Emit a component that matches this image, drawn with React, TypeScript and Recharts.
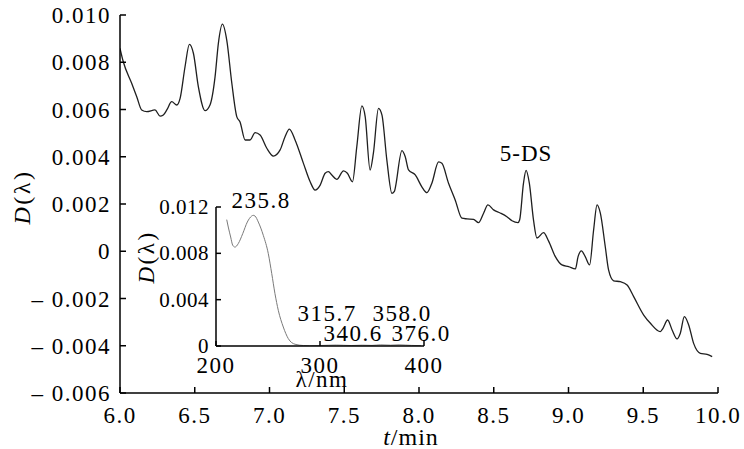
import React from 'react';
import { LineChart, Line, XAxis, YAxis, ReferenceDot } from 'recharts';

const FONT = "'Liberation Serif', 'Times New Roman', serif";

// Main chromatogram: retention time (min) and D(λ)
const timeMin = [
  6.000, 6.022, 6.078, 6.112, 6.145, 6.179, 6.234, 6.268, 6.290, 6.313,
  6.346, 6.380, 6.402, 6.435, 6.464, 6.491, 6.524, 6.569, 6.602, 6.636,
  6.658, 6.685, 6.714, 6.748, 6.781, 6.803, 6.837, 6.870, 6.904, 6.937,
  6.982, 7.026, 7.071, 7.104, 7.133, 7.171, 7.227, 7.272, 7.305, 7.339,
  7.372, 7.394, 7.417, 7.450, 7.495, 7.521, 7.555, 7.584, 7.618, 7.640,
  7.673, 7.695, 7.729, 7.752, 7.785, 7.819, 7.834, 7.886, 7.908, 7.930,
  7.975, 8.019, 8.053, 8.086, 8.131, 8.153, 8.197, 8.242, 8.287, 8.321,
  8.365, 8.398, 8.432, 8.461, 8.499, 8.543, 8.588, 8.622, 8.662, 8.673,
  8.699, 8.716, 8.738, 8.766, 8.789, 8.833, 8.867, 8.912, 8.956, 9.001,
  9.046, 9.064, 9.086, 9.112, 9.141, 9.168, 9.191, 9.213, 9.246, 9.268,
  9.302, 9.347, 9.392, 9.436, 9.503, 9.548, 9.614, 9.632, 9.663, 9.693,
  9.726, 9.748, 9.775, 9.804, 9.837, 9.882, 9.927, 9.961,
];
const signal = [
  0.00859, 0.00802, 0.00711, 0.00654, 0.00598, 0.00591, 0.00598, 0.00572, 0.00577, 0.00598,
  0.00633, 0.00619, 0.00647, 0.00781, 0.00876, 0.00838, 0.00697, 0.00595, 0.00619, 0.00739,
  0.00880, 0.00961, 0.00894, 0.00711, 0.00570, 0.00547, 0.00471, 0.00471, 0.00502, 0.00492,
  0.00436, 0.00403, 0.00429, 0.00485, 0.00517, 0.00471, 0.00372, 0.00294, 0.00259, 0.00280,
  0.00330, 0.00337, 0.00323, 0.00304, 0.00340, 0.00330, 0.00294, 0.00443, 0.00615, 0.00570,
  0.00344, 0.00415, 0.00605, 0.00577, 0.00386, 0.00245, 0.00252, 0.00426, 0.00400, 0.00344,
  0.00323, 0.00273, 0.00248, 0.00288, 0.00378, 0.00372, 0.00289, 0.00217, 0.00140, 0.00137,
  0.00135, 0.00121, 0.00161, 0.00196, 0.00175, 0.00162, 0.00146, 0.00129, 0.00121, 0.00132,
  0.00288, 0.00342, 0.00288, 0.00132, 0.00056, 0.00079, 0.00043, -0.00023, -0.00058, -0.00065,
  -0.00075, -0.00023, 0.00002, -0.00023, -0.00058, 0.00090, 0.00196, 0.00161, 0.00019, -0.00079,
  -0.00125, -0.00129, -0.00143, -0.00192, -0.00270, -0.00305, -0.00340, -0.00326, -0.00291, -0.00333,
  -0.00371, -0.00347, -0.00277, -0.00312, -0.00390, -0.00432, -0.00436, -0.00446,
];
const mainXTicks = [6.0, 6.5, 7.0, 7.5, 8.0, 8.5, 9.0, 9.5, 10.0];
const mainYTicks = [-0.006, -0.004, -0.002, 0, 0.002, 0.004, 0.006, 0.008, 0.010];

// Inset UV spectrum of 5-DS
const wavelength = [
  210.3, 211.8, 214.1, 216.1, 218.3, 221.4, 225.7, 230.1, 234.3, 235.8,
  237.5, 240.7, 245.5, 250.3, 253.6, 256.7, 259.9, 264.7, 269.5, 276.0,
  284.0, 290.0, 300.0, 315.7, 330.0, 340.6, 350.0, 358.0, 368.0, 376.0,
  388.0, 397.0,
];
const absorbance = [
  0.01091, 0.01027, 0.00941, 0.00869, 0.00854, 0.00884, 0.00970, 0.01070, 0.01122, 0.01128,
  0.01122, 0.01070, 0.00955, 0.00797, 0.00625, 0.00452, 0.00308, 0.00164, 0.00064, 0.00015,
  0.00004, 0.00002, 0.00004, 0.00008, 0.00004, 0.00007, 0.00005, 0.00010, 0.00007, 0.00010,
  0.00005, 0.00003,
];
const insetXTicks = [200, 300, 400];
const insetYTicks = [0, 0.004, 0.008, 0.012];

const peak5DS = { t: 8.716, v: 0.00342, name: '5-DS' };

const mainData = timeMin.map((t, i) => ({ t, v: signal[i] }));
const insetData = wavelength.map((w, i) => ({ w, a: absorbance[i] }));

const fmtMainY = (v: number) =>
  Math.abs(v) < 1e-9 ? '0' : v < 0 ? `\u2013 ${Math.abs(v).toFixed(3)}` : v.toFixed(3);
const fmtMainX = (v: number) => v.toFixed(1);
const fmtInsetY = (v: number) => (Math.abs(v) < 1e-9 ? '0' : v.toFixed(3));
const fmtInsetX = (v: number) => String(v);

const txt = (size: number, spacing: number): React.CSSProperties => ({
  fontFamily: FONT,
  fontSize: size,
  letterSpacing: spacing,
});

const makeBottomTick =
  (fmt: (v: number) => string, fontSize: number, spacing: number, base: number, len: number) =>
  (p: any) => (
    <g>
      <line x1={p.x} y1={p.y} x2={p.x} y2={p.y - len} stroke="#000" strokeWidth={1.5} />
      <text x={p.x} y={p.y + base} textAnchor="middle" fill="#000" style={txt(fontSize, spacing)}>
        {fmt(p.payload.value)}
      </text>
    </g>
  );

const makeLeftTick =
  (fmt: (v: number) => string, fontSize: number, spacing: number, gap: number, base: number, len: number) =>
  (p: any) => (
    <g>
      <line x1={p.x} y1={p.y} x2={p.x + len} y2={p.y} stroke="#000" strokeWidth={1.5} />
      <text x={p.x - gap} y={p.y + base} textAnchor="end" fill="#000" style={txt(fontSize, spacing)}>
        {fmt(p.payload.value)}
      </text>
    </g>
  );

const axisLine = { stroke: '#000', strokeWidth: 1.5 };

export default function App() {
  return (
    <div
      style={{
        position: 'absolute',
        left: 0,
        top: 0,
        width: 744,
        height: 449,
        background: '#fff',
        fontFamily: FONT,
      }}
    >
      <LineChart width={744} height={449} data={mainData} margin={{ top: 15, right: 26, bottom: 0, left: 0 }}>
        <XAxis
          dataKey="t"
          type="number"
          domain={[6, 10]}
          ticks={mainXTicks}
          interval={0}
          height={56}
          axisLine={axisLine}
          tickLine={false}
          tickSize={0}
          tickMargin={0}
          tick={makeBottomTick(fmtMainX, 23, 1.5, 30, 6)}
          allowDataOverflow
        />
        <YAxis
          type="number"
          domain={[-0.006, 0.01]}
          ticks={mainYTicks}
          interval={0}
          width={120}
          axisLine={axisLine}
          tickLine={false}
          tickSize={0}
          tickMargin={0}
          tick={makeLeftTick(fmtMainY, 23, 1.5, 9, 8, 6)}
          allowDataOverflow
        />
        <Line
          dataKey="v"
          type="monotone"
          stroke="#1f1f1f"
          strokeWidth={1.3}
          dot={false}
          activeDot={false}
          isAnimationActive={false}
        />
        <ReferenceDot
          x={peak5DS.t}
          y={peak5DS.v}
          r={0}
          fill="none"
          stroke="none"
          label={{ value: peak5DS.name, position: 'top', offset: 9, fill: '#000', style: txt(23, 1) }}
        />
      </LineChart>

      <div style={{ position: 'absolute', left: 140, top: 190, width: 330, height: 210 }}>
        <LineChart width={330} height={210} data={insetData} margin={{ top: 17, right: 46, bottom: 0, left: 0 }}>
          <XAxis
            dataKey="w"
            type="number"
            domain={[200, 400]}
            ticks={insetXTicks}
            interval={0}
            height={54}
            axisLine={axisLine}
            tickLine={false}
            tickSize={0}
            tickMargin={0}
            tick={makeBottomTick(fmtInsetX, 23, 1.5, 27, 5)}
            allowDataOverflow
          />
          <YAxis
            type="number"
            domain={[0, 0.012]}
            ticks={insetYTicks}
            interval={0}
            width={76}
            axisLine={axisLine}
            tickLine={false}
            tickSize={0}
            tickMargin={0}
            tick={makeLeftTick(fmtInsetY, 21, 0.5, 7, 7, 5)}
            allowDataOverflow
          />
          <Line
            dataKey="a"
            type="monotone"
            stroke="#7a7a7a"
            strokeWidth={1}
            dot={false}
            activeDot={false}
            isAnimationActive={false}
          />
        </LineChart>
      </div>

      <svg
        width={744}
        height={449}
        style={{ position: 'absolute', left: 0, top: 0, pointerEvents: 'none', fontFamily: FONT }}
        fill="#000"
      >
        <text transform="translate(30,197) rotate(-90)" textAnchor="middle" style={txt(24, 2.5)}>
          <tspan fontStyle="italic">D</tspan>
          <tspan>(λ)</tspan>
        </text>
        <text x={411} y={445} textAnchor="middle" style={txt(24, 1)}>
          <tspan fontStyle="italic">t</tspan>
          <tspan>/min</tspan>
        </text>
        <text transform="translate(154,257) rotate(-90)" textAnchor="middle" style={txt(23, 2.5)}>
          <tspan fontStyle="italic">D</tspan>
          <tspan>(λ)</tspan>
        </text>
        <text x={322} y={387} textAnchor="middle" style={txt(23, 1.5)}>
          λ/nm
        </text>
        <text x={261} y={208} textAnchor="middle" style={txt(23, 1.5)}>
          235.8
        </text>
        <text x={327} y={321} textAnchor="middle" style={txt(23, 1.5)}>
          315.7
        </text>
        <text x={402} y={321} textAnchor="middle" style={txt(23, 1.5)}>
          358.0
        </text>
        <text x={353} y={341} textAnchor="middle" style={txt(23, 1.5)}>
          340.6
        </text>
        <text x={421} y={341} textAnchor="middle" style={txt(23, 1.5)}>
          376.0
        </text>
      </svg>
    </div>
  );
}
